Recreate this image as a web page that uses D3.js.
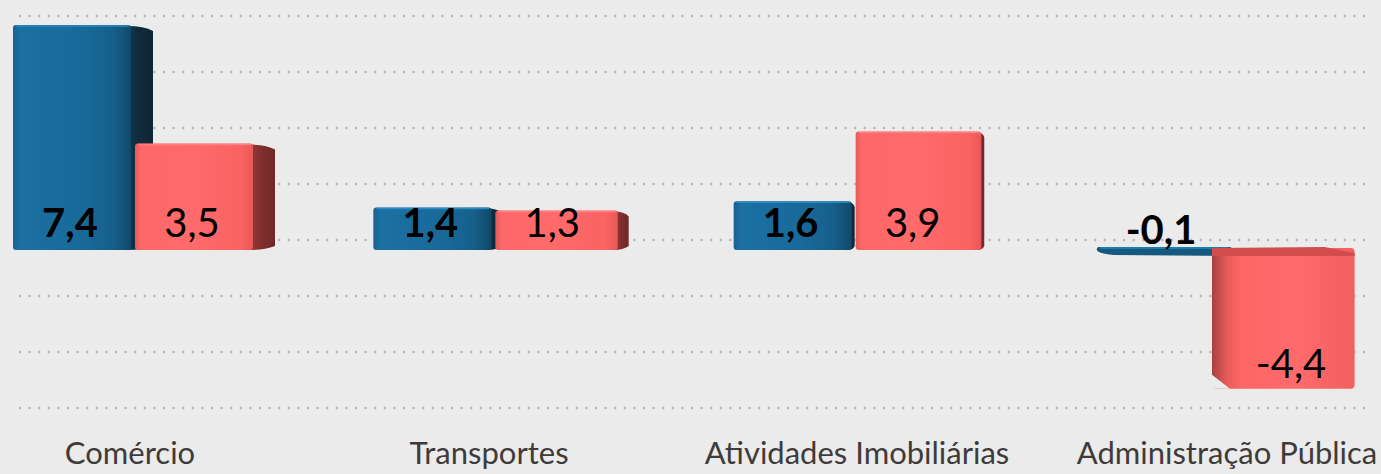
<!DOCTYPE html>
<html>
<head>
<meta charset="utf-8">
<script src="https://cdn.jsdelivr.net/npm/d3@7"></script>
<style>
  html, body { margin: 0; padding: 0; background: #ebebeb; }
  svg { display: block; }
  .cat { font-family: Lato, sans-serif; font-size: 31px; font-weight: 400; fill: #3f3b3a; }
  .val { font-family: Lato, sans-serif; font-size: 40px; fill: #000; }
</style>
</head>
<body>
<div class="container"></div>
<script>
const w = 1381;
const h = 474;

const categories = ['Comércio', 'Transportes', 'Atividades Imobiliárias', 'Administração Pública'];
const serieA = [7.4, 1.4, 1.6, -0.1];
const serieB = [3.5, 1.3, 3.9, -4.4];
const labelsA = ['7,4', '1,4', '1,6', '-0,1'];
const labelsB = ['3,5', '1,3', '3,9', '-4,4'];
const gridValues = [8, 6, 4, 2, 0, -2, -4, -6];

const svg = d3.select('.container').append('svg')
  .attr('width', w)
  .attr('height', h);

const defs = svg.append('defs');

function grad(id, stops) {
  const g = defs.append('linearGradient').attr('id', id)
    .attr('x1', '0%').attr('x2', '100%').attr('y1', '0%').attr('y2', '0%');
  stops.forEach(s => g.append('stop').attr('offset', s[0]).attr('stop-color', s[1]));
}
grad('blueFront', [['0%', '#1a6190'], ['6%', '#1b70a2'], ['55%', '#186a9a'], ['85%', '#175f8b'], ['100%', '#12486a']]);
grad('blueSide', [['0%', '#123a52'], ['40%', '#0f2c3e'], ['100%', '#0e2635']]);
grad('redFront', [['0%', '#e35959'], ['5%', '#ff6868'], ['50%', '#ff6a6a'], ['90%', '#fb6262'], ['100%', '#e85858']]);
grad('redSide', [['0%', '#9a3a3a'], ['50%', '#7f2e2e'], ['100%', '#6e2828']]);
grad('redNeg', [['0%', '#a84040'], ['10%', '#e55a5a'], ['20%', '#ff6666'], ['60%', '#ff6a6a'], ['100%', '#f25f5f']]);

// value scale and back wall scale (3D floor sits behind the bars)
const y = d3.scaleLinear().domain([0, 1]).range([250, 219.6]);
const yGrid = d3.scaleLinear().domain([0, 2]).range([240, 184]);

const x = d3.scalePoint()
  .domain(categories)
  .range([141, 1222]);

// side face depth shrinks toward the middle (perspective)
const depth = d3.scaleLinear().domain([141, 760]).range([22, 3]).clamp(true);

// dotted grid
svg.append('g')
  .selectAll('line')
  .data(gridValues)
  .enter()
  .append('line')
    .attr('x1', 20)
    .attr('x2', 1365)
    .attr('y1', d => yGrid(d))
    .attr('y2', d => yGrid(d))
    .attr('stroke', '#b5b5b5')
    .attr('stroke-width', 2.4)
    .attr('stroke-linecap', 'round')
    .attr('stroke-dasharray', '0,9.6');

function drawBar(g, cx, v, series) {
  const blue = series === 'A';
  const d = depth(cx);
  const x0 = blue ? cx - 128 : cx - 6;
  const x1 = blue ? cx - 10 : cx + 112 + (22 - d) * 0.4;
  let top = Math.min(y(v), y(0));
  let bot = Math.max(y(v), y(0));
  if (bot - top < 8) { top = y(0) - 3; bot = y(0) + 6; }

  if (v >= 0) {
    // right side face
    g.append('path')
      .attr('d', `M${x1 - 4},${top + 1} Q${x1 + d * 0.6},${top + 1} ${x1 + d},${top + 6}
                  L${x1 + d},${bot - 4} Q${x1 + d * 0.5},${bot} ${x1 - 4},${bot} Z`)
      .attr('fill', blue ? 'url(#blueSide)' : 'url(#redSide)');
    g.append('rect')
      .attr('x', x0).attr('y', top)
      .attr('width', x1 - x0).attr('height', bot - top)
      .attr('rx', 3)
      .attr('fill', blue ? 'url(#blueFront)' : 'url(#redFront)');
    // top highlight
    g.append('line')
      .attr('x1', x0 + 3).attr('x2', x1 - 2)
      .attr('y1', top + 1).attr('y2', top + 1)
      .attr('stroke', blue ? '#2a8ac2' : '#ff8080')
      .attr('stroke-width', 1.5);
  } else if (blue) {
    // very thin slab
    g.append('path')
      .attr('d', `M${x0 + 4},${top} L${x1 + 18},${top} Q${x1 + 26},${top + 3} ${x1 + 22},${bot}
                  L${x0 + 20},${bot - 1} Q${x0 - 2},${bot - 3} ${x0 + 4},${top} Z`)
      .attr('fill', '#15597f');
    g.append('line')
      .attr('x1', x0 + 6).attr('x2', x1 + 16)
      .attr('y1', top + 1).attr('y2', top + 1)
      .attr('stroke', '#1f7bb0').attr('stroke-width', 2);
  } else {
    const nx0 = x0 - 4, nx1 = x1 + 13;
    top = top - 2;
    bot = bot + 5;
    g.append('rect')
      .attr('x', nx0).attr('y', top)
      .attr('width', nx1 - nx0).attr('height', bot - top)
      .attr('rx', 4)
      .attr('fill', 'url(#redNeg)');
    // top face seen from above
    g.append('path')
      .attr('d', `M${nx0},${top} L${nx1 - 30},${top - 1} L${nx1},${top + 5} L${nx1},${top + 8} L${nx0},${top + 8} Z`)
      .attr('fill', '#d24c4c');
    // lower-left bevel
    g.append('path')
      .attr('d', `M${nx0},${bot - 14} L${nx0 + 18},${bot} L${nx0},${bot} Z`)
      .attr('fill', '#ebebeb');
  }
}

const bars = svg.append('g');
categories.forEach((c, i) => {
  drawBar(bars, x(c), serieA[i], 'A');
  drawBar(bars, x(c), serieB[i], 'B');
});

// value labels
const labelData = [];
categories.forEach((c, i) => {
  labelData.push({ cx: x(c) - 71, v: serieA[i], t: labelsA[i], bold: true });
  labelData.push({ cx: x(c) + 51, v: serieB[i], t: labelsB[i], bold: false });
});

svg.append('g')
  .selectAll('text')
  .data(labelData)
  .enter()
  .append('text')
    .attr('class', 'val')
    .attr('text-anchor', 'middle')
    .attr('font-weight', d => d.bold ? 700 : 400)
    .attr('x', d => d.v < -1 ? d.cx + 18 : (d.v < 0 ? d.cx + 10 : d.cx))
    .attr('y', d => d.v < -1 ? y(d.v) - 6 : (d.v < 0 ? y(0) - 6 : y(0) - 13))
    .text(d => d.t);

// category labels
svg.append('g')
  .selectAll('text')
  .data(categories)
  .enter()
  .append('text')
    .attr('class', 'cat')
    .attr('text-anchor', 'middle')
    .attr('x', (d, i) => [130, 489, 857, 1227][i])
    .attr('y', 464)
    .text(d => d);
</script>
</body>
</html>
